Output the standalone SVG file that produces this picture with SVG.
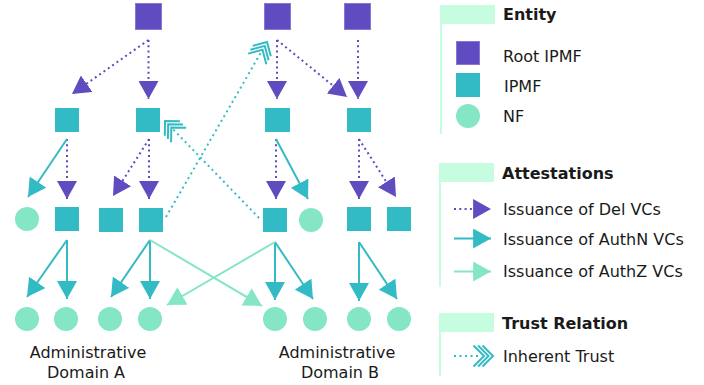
<svg xmlns="http://www.w3.org/2000/svg" width="704" height="385" viewBox="0 0 704 385">
<style>
.root{fill:#604bc0;stroke:#8878d6;stroke-width:1}
.ipmf{fill:#33bbc5}
.nf{fill:#85e6c5}
.del{stroke:#604bc0;stroke-width:2;stroke-dasharray:2 3.3;fill:none;marker-end:url(#aP)}
.authn{stroke:#33bbc5;stroke-width:2;fill:none;marker-end:url(#aT)}
.authz{stroke:#85e6c5;stroke-width:2;fill:none;marker-end:url(#aM)}
.trust{stroke:#33bbc5;stroke-width:2;stroke-dasharray:2 3.5;fill:none;marker-end:url(#aC)}
.hdr{fill:#c6fcdf}
text{font-family:"DejaVu Sans","Liberation Sans",sans-serif;font-size:16px;fill:#1a1a1a}
.b{font-weight:bold}
.mid{text-anchor:middle}
</style>
<defs>
<marker id="aP" markerUnits="userSpaceOnUse" markerWidth="18" markerHeight="20" viewBox="0 0 17 19" refX="17" refY="9.5" orient="auto"><path d="M0,0 L17,9.5 L0,19 z" fill="#604bc0"/></marker>
<marker id="aT" markerUnits="userSpaceOnUse" markerWidth="18" markerHeight="20" viewBox="0 0 17 19" refX="17" refY="9.5" orient="auto"><path d="M0,0 L17,9.5 L0,19 z" fill="#33bbc5"/></marker>
<marker id="aM" markerUnits="userSpaceOnUse" markerWidth="18" markerHeight="20" viewBox="0 0 17 19" refX="17" refY="9.5" orient="auto"><path d="M0,0 L17,9.5 L0,19 z" fill="#85e6c5"/></marker>
<marker id="aC" markerUnits="userSpaceOnUse" markerWidth="26" markerHeight="26" viewBox="-23 -13 26 26" refX="-12" refY="0" orient="auto" overflow="visible"><path d="M-10.5,-10.5 L0,0 L-10.5,10.5 M-15,-10.5 L-4.5,0 L-15,10.5 M-19.5,-10.5 L-9,0 L-19.5,10.5" fill="none" stroke="#33bbc5" stroke-width="2"/></marker>
</defs>

<g id="connectors">
<!-- Del VCs -->
<line class="del" x1="148.5" y1="40" x2="72" y2="94"/>
<line class="del" x1="148.5" y1="40" x2="148.5" y2="99"/>
<line class="del" x1="277" y1="40" x2="277" y2="99"/>
<line class="del" x1="277" y1="40" x2="347" y2="97"/>
<line class="del" x1="358" y1="40" x2="358" y2="99"/>
<line class="del" x1="67" y1="139" x2="67" y2="199"/>
<line class="del" x1="149" y1="139" x2="149" y2="199"/>
<line class="del" x1="149" y1="139" x2="113" y2="196"/>
<line class="del" x1="276" y1="139" x2="276" y2="199"/>
<line class="del" x1="359" y1="139" x2="359" y2="199"/>
<line class="del" x1="359" y1="139" x2="396" y2="197"/>
<!-- AuthN VCs -->
<line class="authn" x1="67" y1="139" x2="28" y2="197"/>
<line class="authn" x1="276" y1="139" x2="308" y2="199"/>
<line class="authn" x1="67" y1="240" x2="27" y2="297"/>
<line class="authn" x1="67" y1="240" x2="67" y2="299"/>
<line class="authn" x1="150" y1="240" x2="111" y2="297"/>
<line class="authn" x1="150" y1="240" x2="150" y2="299"/>
<line class="authn" x1="275" y1="242" x2="275" y2="300"/>
<line class="authn" x1="275" y1="242" x2="313" y2="299"/>
<line class="authn" x1="359" y1="242" x2="359" y2="301"/>
<line class="authn" x1="359" y1="242" x2="397" y2="299"/>
<!-- AuthZ VCs -->
<line class="authz" x1="150" y1="240" x2="262" y2="306"/>
<line class="authz" x1="275" y1="242" x2="167" y2="305"/>
<!-- Inherent trust -->
<line class="trust" x1="166" y1="217" x2="261" y2="52.4"/>
<line class="trust" x1="259" y1="218" x2="173.4" y2="129.6"/>
</g>

<g id="root-a"><rect class="root" x="135.5" y="3.5" width="26" height="26"/></g>
<g id="root-b1"><rect class="root" x="264.5" y="3.5" width="26" height="26"/></g>
<g id="root-b2"><rect class="root" x="344.5" y="3.5" width="26" height="26"/></g>

<g id="ipmf-a1"><rect class="ipmf" x="55" y="108" width="24" height="24"/></g>
<g id="ipmf-a2"><rect class="ipmf" x="136" y="108" width="24" height="24"/></g>
<g id="ipmf-b1"><rect class="ipmf" x="265" y="108" width="25" height="24"/></g>
<g id="ipmf-b2"><rect class="ipmf" x="347" y="108" width="24" height="24"/></g>

<g id="nf-a1"><circle class="nf" cx="27" cy="219" r="12"/></g>
<g id="ipmf-a3"><rect class="ipmf" x="55" y="207" width="24" height="24"/></g>
<g id="ipmf-a4"><rect class="ipmf" x="99" y="208" width="24" height="24"/></g>
<g id="ipmf-a5"><rect class="ipmf" x="139" y="208" width="24" height="24"/></g>
<g id="ipmf-b3"><rect class="ipmf" x="263" y="208" width="24" height="24"/></g>
<g id="nf-b1"><circle class="nf" cx="311" cy="220" r="12"/></g>
<g id="ipmf-b4"><rect class="ipmf" x="347" y="207" width="24" height="24"/></g>
<g id="ipmf-b5"><rect class="ipmf" x="387" y="207" width="24" height="24"/></g>

<g id="nf-a2"><circle class="nf" cx="27" cy="319" r="12"/></g>
<g id="nf-a3"><circle class="nf" cx="66" cy="319" r="12"/></g>
<g id="nf-a4"><circle class="nf" cx="110" cy="319" r="12"/></g>
<g id="nf-a5"><circle class="nf" cx="150" cy="319" r="12"/></g>
<g id="nf-b2"><circle class="nf" cx="275" cy="319" r="12"/></g>
<g id="nf-b3"><circle class="nf" cx="315" cy="319" r="12"/></g>
<g id="nf-b4"><circle class="nf" cx="359" cy="319" r="12"/></g>
<g id="nf-b5"><circle class="nf" cx="399" cy="319" r="12"/></g>

<g id="label-a">
<text class="mid" x="88" y="358">Administrative</text>
<text class="mid" x="86" y="378">Domain A</text>
</g>
<g id="label-b">
<text class="mid" x="337" y="358">Administrative</text>
<text class="mid" x="340" y="378">Domain B</text>
</g>

<g id="legend-entity">
<rect class="hdr" x="440" y="5" width="55" height="19"/>
<rect class="hdr" x="440" y="24" width="2" height="110"/>
<text class="b" x="503" y="20">Entity</text>
<rect class="root" x="456.5" y="41.5" width="23" height="23"/>
<text x="503" y="62">Root IPMF</text>
<rect class="ipmf" x="456" y="73" width="24" height="24"/>
<text x="504" y="92">IPMF</text>
<circle class="nf" cx="468" cy="116" r="12"/>
<text x="503" y="122">NF</text>
</g>

<g id="legend-attestations">
<rect class="hdr" x="439" y="163" width="55" height="19"/>
<rect class="hdr" x="439" y="182" width="2" height="105"/>
<text class="b" x="502" y="179">Attestations</text>
<line class="del" x1="454" y1="209" x2="491" y2="209"/>
<text x="503" y="215">Issuance of Del VCs</text>
<line class="authn" x1="454" y1="238.5" x2="491" y2="238.5"/>
<text x="503" y="245">Issuance of AuthN VCs</text>
<line class="authz" x1="454" y1="271.5" x2="491" y2="271.5"/>
<text x="503" y="277">Issuance of AuthZ VCs</text>
</g>

<g id="legend-trust">
<rect class="hdr" x="439" y="313" width="55" height="19"/>
<rect class="hdr" x="439" y="332" width="2" height="44"/>
<text class="b" x="502" y="329">Trust Relation</text>
<line class="trust" x1="454" y1="356" x2="481" y2="356"/>
<text x="503" y="362">Inherent Trust</text>
</g>
</svg>
